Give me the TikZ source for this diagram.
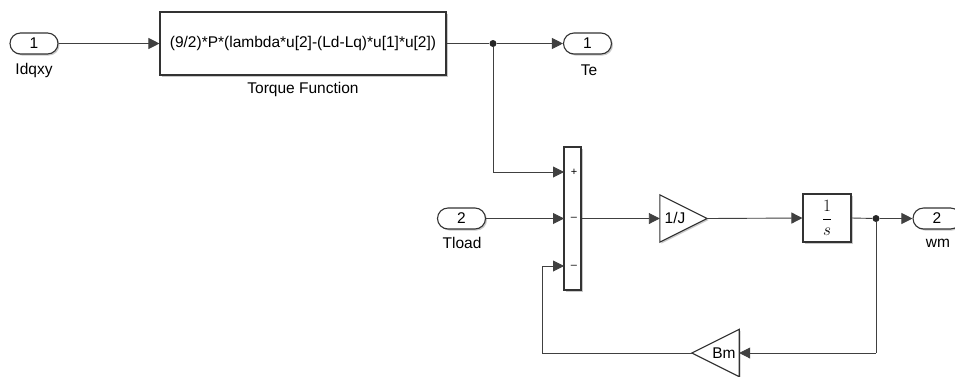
\documentclass[tikz,border=0pt]{standalone}
\usepackage{fontspec}
\setmainfont{Liberation Sans}
\usetikzlibrary{arrows.meta,shadows}
\begin{document}
\begin{tikzpicture}[x=1pt,y=-1pt,
  font=\fontsize{15.5}{18}\selectfont,
  wire/.style={draw=black!75,line width=0.9pt},
  arr/.style={wire,-{Triangle[length=11pt,width=11pt]}},
  shad/.style={drop shadow={shadow xshift=1.5pt,shadow yshift=-1.5pt,opacity=0.35,fill=black!60}},
  blk/.style={draw=black!80,line width=1.1pt,fill=white,shad,inner sep=0pt},
  port/.style={blk,rounded corners=10.5pt,minimum width=48pt,minimum height=21pt},
  ghost/.style={inner sep=0pt,minimum width=47pt,minimum height=47pt},
  lbl/.style={inner sep=0pt,anchor=center},
  dot/.style={circle,fill=black!85,inner sep=0pt,minimum size=7pt}]
\useasboundingbox (0,0) rectangle (955,376);
\fill[white] (0,0) rectangle (955,376);

% Inports / outports
\node[port] (in1) at (34,43.5) {1};
\node[lbl] (in1l) at (34,70) {Idqxy};
\node[port] (in2) at (461.5,218.5) {2};
\node[lbl] (in2l) at (462,243) {Tload};
\node[port] (out1) at (587.5,43.5) {1};
\node[lbl] (out1l) at (589,70) {Te};
\node[port] (out2) at (937,218.5) {2};
\node[lbl] (out2l) at (938,243) {wm};

% Torque function
\node[blk,minimum width=286pt,minimum height=63pt] (tf) at (303,43.5)
  {(9/2)*P*(lambda*u[2]-(Ld-Lq)*u[1]*u[2])};
\node[lbl] (tfl) at (303,89) {Torque Function};

% Sum block
\node[blk,minimum width=17pt,minimum height=143pt] (sum) at (572.5,218.5) {};
\coordinate (s1) at (564,172);
\coordinate (s2) at (564,218.5);
\coordinate (s3) at (564,266);
\node[lbl,font=\fontsize{11}{12}\selectfont] (sp) at (574,172) {+};
\node[lbl,font=\fontsize{11}{12}\selectfont] (sm1) at (574,219) {--};
\node[lbl,font=\fontsize{11}{12}\selectfont] (sm2) at (574,266.5) {--};

% Gain 1/J
\node[ghost] (gJ) at (683.5,218.5) {};
\path[draw=black!80,line width=1.1pt,fill=white,shad]
  (gJ.north west) -- (gJ.south west) -- (gJ.east) -- cycle;
\node[lbl] (gJl) at (675,218) {1/J};

% Integrator
\node[blk,minimum width=48pt,minimum height=48pt,font=\fontsize{19}{22}\selectfont] (int) at (827,218)
  {$\displaystyle\frac{1}{s}$};

% Gain Bm
\node[ghost] (gB) at (715.5,353) {};
\path[draw=black!80,line width=1.1pt,fill=white,shad]
  (gB.north east) -- (gB.south east) -- (gB.west) -- cycle;
\node[lbl] (gBl) at (724,353) {Bm};

% Junctions
\node[dot] (j1) at (493,43.5) {};
\node[dot] (j2) at (876,218.5) {};
\coordinate (c1) at (493,172);
\coordinate (c2) at (876,353);
\coordinate (c3) at (542,353);
\coordinate (c4) at (542,266);

% Connectors
\draw[arr] (in1) -- (tf.west |- in1);
\draw[wire] (tf.east |- j1) -- (j1);
\draw[arr] (j1) -- (out1);
\draw[wire] (j1) -- (c1);
\draw[arr] (c1) -- (s1);
\draw[arr] (in2) -- (s2);
\draw[arr] (sum.east) -- (gJ.west);
\draw[arr] (gJ.east) -- (int.west);
\draw[wire] (int.east) -- (j2);
\draw[arr] (j2) -- (out2);
\draw[wire] (j2) -- (c2);
\draw[arr] (c2) -- (gB.east);
\draw[wire] (gB.west) -- (c3) -- (c4);
\draw[arr] (c4) -- (s3);
\end{tikzpicture}
\end{document}
